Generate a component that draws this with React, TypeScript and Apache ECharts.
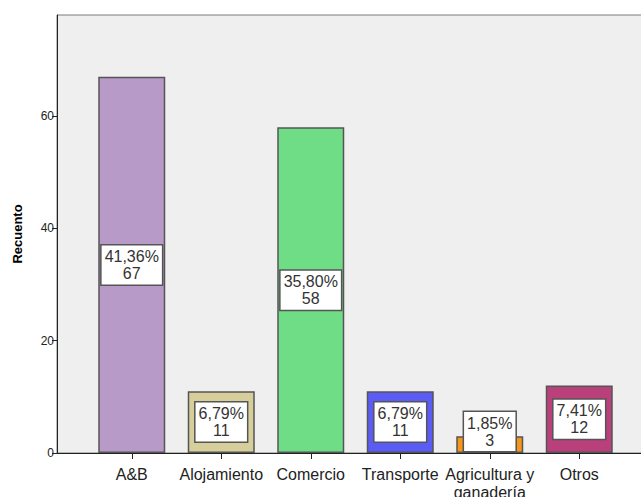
import React, { useEffect, useRef } from "react";
import * as echarts from "echarts";

const categories = ["A&B", "Alojamiento", "Comercio", "Transporte", "Agricultura y\nganadería", "Otros"];
const counts = [67, 11, 58, 11, 3, 12];
const percents = ["41,36%", "6,79%", "35,80%", "6,79%", "1,85%", "7,41%"];
const colors = ["#b89ac9", "#d7cf9b", "#6fdd86", "#5b5bf6", "#f5961c", "#b9407a"];
const yTicks = [0, 20, 40, 60];

export default function App() {
  const ref = useRef<HTMLDivElement>(null);
  useEffect(() => {
    const chart = echarts.init(ref.current!, null, { renderer: "svg" });
    const font = "'Liberation Sans', Arial, sans-serif";
    const data = counts.map((v, i) => ({
      value: v,
      itemStyle: { color: colors[i] },
      label: v < 5 ? { offset: [0, -13] } : {},
    }));
    chart.setOption({
      animation: false,
      grid: [
        {
          left: 57, right: -5, top: 15, bottom: 44, outerBoundsMode: "none", containLabel: false,
          show: true, backgroundColor: "#efefef", borderColor: "#7a7a7a", borderWidth: 1,
        },
        { left: 87, right: 17, top: 15, bottom: 44, outerBoundsMode: "none", containLabel: false },
      ],
      xAxis: [
        {
          gridIndex: 0, type: "value", min: 0, max: 1,
          axisLine: { show: true, lineStyle: { color: "#222", width: 1 } },
          axisTick: { show: false }, axisLabel: { show: false }, splitLine: { show: false },
        },
        {
          gridIndex: 1, type: "category", data: categories,
          axisLine: { show: false },
          axisTick: { show: true, alignWithLabel: true, length: 6, lineStyle: { color: "#222" } },
          axisLabel: { color: "#222", fontSize: 16, fontFamily: font, margin: 12, interval: 0, lineHeight: 18 },
        },
      ],
      yAxis: [
        {
          gridIndex: 0, type: "value", min: 0, max: 78, interval: 20,
          name: "Recuento", nameLocation: "middle", nameGap: 33,
          nameTextStyle: { fontWeight: "bold", fontSize: 13, color: "#000", fontFamily: font },
          axisLine: { show: true, lineStyle: { color: "#222" } },
          axisTick: { show: true, length: 5, lineStyle: { color: "#222" } },
          axisLabel: {
            color: "#222", fontSize: 12, fontFamily: font, margin: 3, showMaxLabel: false,
            formatter: (v: number) => (yTicks.includes(v) ? String(v) : ""),
          },
          splitLine: { show: false },
        },
        {
          gridIndex: 1, type: "value", min: 0, max: 78, show: false, splitLine: { show: false },
        },
      ],
      series: [
        {
          type: "bar", xAxisIndex: 1, yAxisIndex: 1, barWidth: 67,
          data,
          itemStyle: { borderColor: "#555", borderWidth: 1.5 },
          label: {
            show: true, position: "inside",
            formatter: (p: any) => percents[p.dataIndex] + "\n" + counts[p.dataIndex],
            backgroundColor: "#fff", borderColor: "#555", borderWidth: 1.5,
            padding: [3, 3, 2, 3], color: "#333", fontSize: 16, lineHeight: 17, fontFamily: font,
          },
        },
      ],
    });
    return () => chart.dispose();
  }, []);
  return <div ref={ref} style={{ width: 641, height: 497, position: "absolute", left: 0, top: 0 }} />;
}
